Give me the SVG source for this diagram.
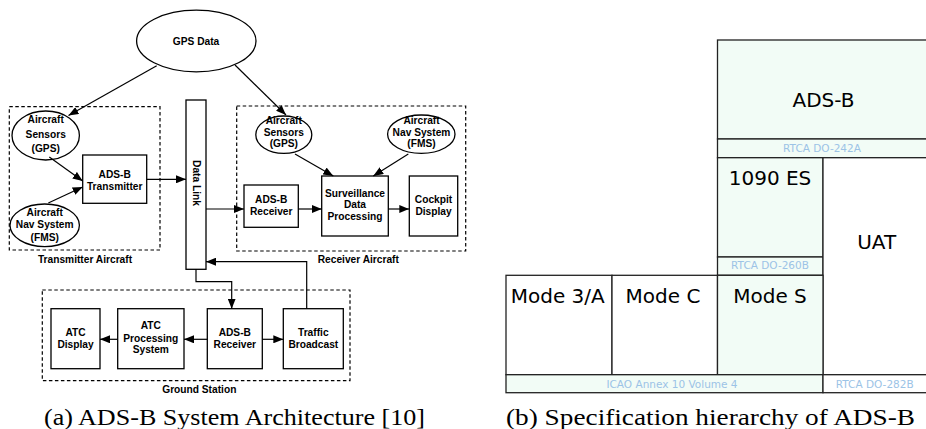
<svg xmlns="http://www.w3.org/2000/svg" width="926" height="429" viewBox="0 0 926 429">
<style>
  .node { fill: #fff; stroke: #000; stroke-width: 1.3; }
  .grp { fill: none; stroke: #000; stroke-width: 1.2; stroke-dasharray: 3.5 2.5; }
  .lbl { font-family: "Liberation Sans", Arial, sans-serif; font-weight: bold; font-size: 10.2px; fill: #000; text-anchor: middle; }
  .conn { fill: none; stroke: #000; stroke-width: 1.2; }
  .cap { font-family: "Liberation Serif", "Times New Roman", serif; font-size: 23.5px; fill: #000; }
  .cell { stroke: #222; stroke-width: 1.3; }
  .mint { fill: #f2fcf6; }
  .white { fill: #fff; }
  .big { font-family: "DejaVu Sans", sans-serif; font-size: 20px; fill: #000; text-anchor: middle; }
  .spec { font-family: "DejaVu Sans", sans-serif; font-size: 10.5px; fill: #9cc3e6; text-anchor: middle; }
</style>
<defs>
  <marker id="arr" markerUnits="userSpaceOnUse" markerWidth="10" markerHeight="8" refX="10" refY="4" orient="auto">
    <path d="M0,0 L10,4 L0,8 z" fill="#000"/>
  </marker>
</defs>
<rect width="926" height="429" fill="#fff"/>

<!-- (a) group boxes -->
<g id="transmitter-aircraft">
  <rect class="grp" x="9.3" y="106.7" width="150.7" height="143.3"/>
  <text class="lbl" x="85" y="263">Transmitter Aircraft</text>
</g>
<g id="receiver-aircraft">
  <rect class="grp" x="236.7" y="106" width="229" height="145"/>
  <text class="lbl" x="358.3" y="263.3">Receiver Aircraft</text>
</g>
<g id="ground-station">
  <rect class="grp" x="42.3" y="290" width="307.7" height="90.7"/>
  <text class="lbl" x="199.3" y="393">Ground Station</text>
</g>

<!-- (a) nodes -->
<g id="gps-data">
  <ellipse class="node" cx="196.3" cy="41" rx="59.7" ry="30.8"/>
  <text class="lbl" x="196" y="44.5">GPS Data</text>
</g>
<g id="tx-sensors">
  <ellipse class="node" cx="45.7" cy="135.5" rx="33.7" ry="24.5"/>
  <text class="lbl" x="45.7" y="123">Aircraft</text>
  <text class="lbl" x="45.7" y="137.5">Sensors</text>
  <text class="lbl" x="45.7" y="151.5">(GPS)</text>
</g>
<g id="tx-nav">
  <ellipse class="node" cx="44.7" cy="225.3" rx="34.7" ry="21.3"/>
  <text class="lbl" x="44.7" y="215.5">Aircraft</text>
  <text class="lbl" x="44.7" y="228">Nav System</text>
  <text class="lbl" x="44.7" y="240.5">(FMS)</text>
</g>
<g id="adsb-transmitter">
  <rect class="node" x="82.7" y="155" width="64" height="48.3"/>
  <text class="lbl" x="114.7" y="178">ADS-B</text>
  <text class="lbl" x="114.7" y="189.5">Transmitter</text>
</g>
<g id="data-link">
  <rect class="node" x="186" y="100" width="20" height="169.3"/>
  <text class="lbl" transform="translate(192.5,183) rotate(90)" x="0" y="0">Data Link</text>
</g>
<g id="rx-sensors">
  <ellipse class="node" cx="283.8" cy="134.7" rx="28" ry="18.7"/>
  <text class="lbl" x="283.8" y="124.3">Aircraft</text>
  <text class="lbl" x="283.8" y="136">Sensors</text>
  <text class="lbl" x="283.8" y="147.3">(GPS)</text>
</g>
<g id="rx-nav">
  <ellipse class="node" cx="421.3" cy="134.2" rx="33.7" ry="19.2"/>
  <text class="lbl" x="421.5" y="124.3">Aircraft</text>
  <text class="lbl" x="421.5" y="136">Nav System</text>
  <text class="lbl" x="421.5" y="147.3">(FMS)</text>
</g>
<g id="rx-adsb-receiver">
  <rect class="node" x="244" y="185" width="54.3" height="42.3"/>
  <text class="lbl" x="271.2" y="202.7">ADS-B</text>
  <text class="lbl" x="271.2" y="215">Receiver</text>
</g>
<g id="surveillance">
  <rect class="node" x="321.7" y="176" width="66.6" height="60"/>
  <text class="lbl" x="355" y="196.7">Surveillance</text>
  <text class="lbl" x="355" y="208.3">Data</text>
  <text class="lbl" x="355" y="220">Processing</text>
</g>
<g id="cockpit-display">
  <rect class="node" x="409.3" y="176" width="48.4" height="60"/>
  <text class="lbl" x="433.5" y="202.7">Cockpit</text>
  <text class="lbl" x="433.5" y="215">Display</text>
</g>
<g id="atc-display">
  <rect class="node" x="51" y="308.7" width="49" height="60"/>
  <text class="lbl" x="75.5" y="335.7">ATC</text>
  <text class="lbl" x="75.5" y="347.7">Display</text>
</g>
<g id="atc-processing">
  <rect class="node" x="117.7" y="308.7" width="66.3" height="60"/>
  <text class="lbl" x="150.8" y="329.3">ATC</text>
  <text class="lbl" x="150.8" y="341.5">Processing</text>
  <text class="lbl" x="150.8" y="353.3">System</text>
</g>
<g id="gs-adsb-receiver">
  <rect class="node" x="207.3" y="308.7" width="55" height="60"/>
  <text class="lbl" x="234.8" y="335.7">ADS-B</text>
  <text class="lbl" x="234.8" y="347.7">Receiver</text>
</g>
<g id="traffic-broadcast">
  <rect class="node" x="283.3" y="308.7" width="60" height="60"/>
  <text class="lbl" x="313.3" y="335.7">Traffic</text>
  <text class="lbl" x="313.3" y="347.7">Broadcast</text>
</g>

<!-- (a) connectors -->
<g id="connectors">
  <path class="conn" marker-end="url(#arr)" d="M156.7,65.7 L68.5,115.5"/>
  <path class="conn" marker-end="url(#arr)" d="M235,65 L286,115"/>
  <path class="conn" marker-end="url(#arr)" d="M49.3,157 L82.7,181"/>
  <path class="conn" marker-end="url(#arr)" d="M48.3,203 L82.7,187"/>
  <path class="conn" marker-end="url(#arr)" d="M146.7,179.3 L186,179.3"/>
  <path class="conn" marker-end="url(#arr)" d="M206,209 L244,209"/>
  <path class="conn" marker-end="url(#arr)" d="M298.3,209 L321.7,209"/>
  <path class="conn" marker-end="url(#arr)" d="M388.3,209 L409.3,209"/>
  <path class="conn" marker-end="url(#arr)" d="M295,154 L333.3,176"/>
  <path class="conn" marker-end="url(#arr)" d="M408.3,154 L373.3,176"/>
  <path class="conn" marker-end="url(#arr)" d="M196,269.3 V281.7 H231.7 V308.7"/>
  <path class="conn" marker-end="url(#arr)" d="M306.7,308.7 V261.7 H206"/>
  <path class="conn" marker-end="url(#arr)" d="M207.3,339.3 L184,339.3"/>
  <path class="conn" marker-end="url(#arr)" d="M117.7,339.3 L100,339.3"/>
  <path class="conn" marker-end="url(#arr)" d="M262.3,339.3 L283.3,339.3"/>
</g>

<text class="cap" x="44" y="424.5" textLength="381" lengthAdjust="spacingAndGlyphs">(a) ADS-B System Architecture [10]</text>

<!-- (b) specification hierarchy -->
<g id="spec-hierarchy">
  <rect class="cell mint" x="717.5" y="40" width="215" height="99"/>
  <rect class="cell mint" x="717.5" y="139" width="215" height="18.7"/>
  <rect class="cell mint" x="717.5" y="157.7" width="105.5" height="99.3"/>
  <rect class="cell mint" x="717.5" y="257" width="105.5" height="18.3"/>
  <rect class="cell white" x="823" y="157.7" width="110" height="217"/>
  <rect class="cell white" x="506" y="275.3" width="106" height="99.4"/>
  <rect class="cell white" x="612" y="275.3" width="105.5" height="99.4"/>
  <rect class="cell mint" x="717.5" y="275.3" width="105.5" height="99.4"/>
  <rect class="cell mint" x="506" y="374.7" width="317" height="18"/>
  <rect class="cell white" x="823" y="374.7" width="110" height="18"/>

  <text class="big" x="823.5" y="106.5">ADS-B</text>
  <text class="spec" x="822" y="152">RTCA DO-242A</text>
  <text class="big" x="770" y="185">1090 ES</text>
  <text class="spec" x="770" y="269.3">RTCA DO-260B</text>
  <text class="big" x="876.7" y="249">UAT</text>
  <text class="big" x="557.7" y="303.3">Mode 3/A</text>
  <text class="big" x="663" y="303.3">Mode C</text>
  <text class="big" x="770" y="303.3">Mode S</text>
  <text class="spec" x="672" y="388">ICAO Annex 10 Volume 4</text>
  <text class="spec" x="874.7" y="388">RTCA DO-282B</text>
</g>

<text class="cap" x="506" y="424.5" textLength="409" lengthAdjust="spacingAndGlyphs">(b) Specification hierarchy of ADS-B</text>
</svg>
